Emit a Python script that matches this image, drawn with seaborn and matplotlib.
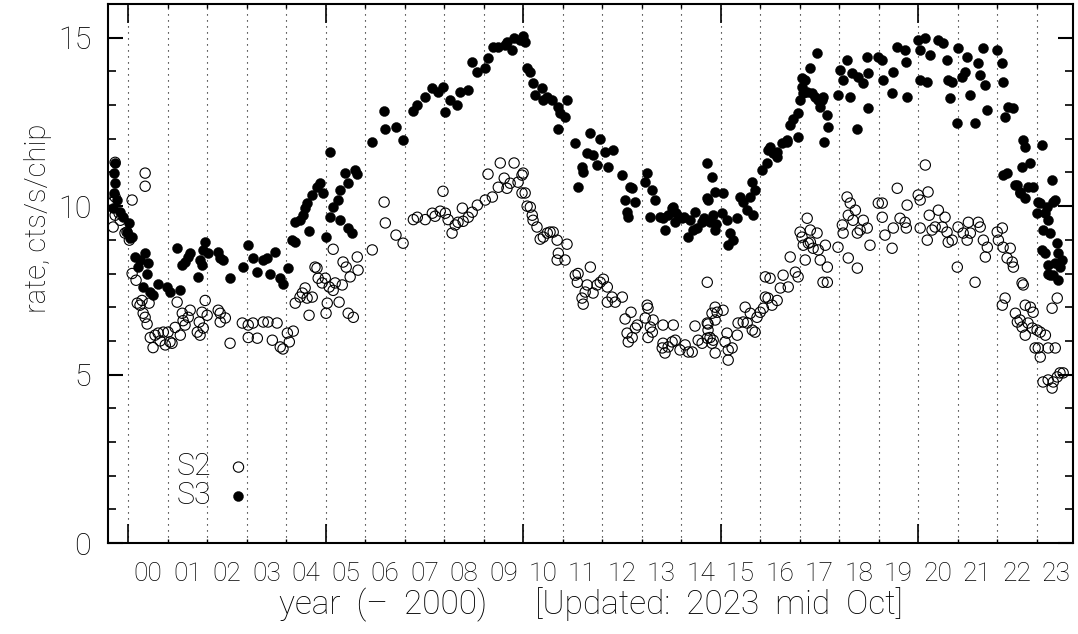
import numpy as np
import pandas as pd
import matplotlib
matplotlib.use("Agg")
import matplotlib.pyplot as plt
import seaborn as sns

# S3 (filled) rates, cts/s/chip
s3_year = [
    1999.67, 1999.65, 1999.67, 1999.65, 1999.72, 1999.62, 1999.80, 1999.87, 2000.03, 1999.97, 2000.10, 2000.05,
    2000.18, 2000.30, 2000.43, 2000.51, 2000.25, 2000.48, 2000.38, 2000.56, 2000.63, 2000.76, 2000.99, 2001.06,
    2001.32, 2001.24, 2001.37, 2001.44, 2001.52, 2001.57, 2001.82, 2001.90, 2001.95, 2002.03, 2001.87, 2001.77,
    2002.28, 2002.33, 2002.41, 2002.58, 2002.91, 2003.04, 2003.16, 2003.27, 2003.42, 2003.52, 2003.59, 2003.72,
    2003.85, 2003.92, 2004.05, 2004.15, 2004.23, 2004.23, 2004.35, 2004.43, 2004.48, 2004.53, 2004.66, 2004.78,
    2004.86, 2004.94, 2004.58, 2005.01, 2005.11, 2005.19, 2005.32, 2005.37, 2005.49, 2005.57, 2005.37, 2005.57,
    2005.67, 2005.11, 2005.75, 2005.80, 2006.18, 2006.48, 2006.51, 2006.78, 2006.96, 2007.22, 2007.32, 2007.52,
    2007.70, 2007.85, 2007.97, 2008.03, 2008.15, 2008.33, 2008.41, 2008.61, 2008.71, 2008.84, 2009.04, 2009.11,
    2009.24, 2009.37, 2009.54, 2009.59, 2009.72, 2009.77, 2009.92, 2010.00, 2010.05, 2010.10, 2010.18, 2010.25,
    2010.30, 2010.48, 2010.51, 2010.61, 2010.73, 2010.89, 2010.94, 2011.11, 2011.06, 2010.89, 2011.32, 2011.39,
    2011.49, 2011.52, 2011.62, 2011.70, 2011.77, 2011.87, 2011.95, 2012.08, 2012.15, 2012.28, 2012.51, 2012.58,
    2012.66, 2012.76, 2012.84, 2013.09, 2013.14, 2013.22, 2013.27, 2013.34, 2012.63, 2012.71, 2013.54, 2013.59,
    2013.77, 2013.85, 2014.03, 2014.18, 2014.30, 2014.35, 2014.53, 2013.47, 2013.67, 2013.87, 2014.08, 2014.23,
    2014.58, 2014.73, 2014.89, 2015.04, 2013.80, 2014.41, 2014.66, 2014.68, 2014.78, 2014.81, 2014.86, 2014.66,
    2014.86, 2015.06, 2015.16, 2015.24, 2015.19, 2015.32, 2015.42, 2015.49, 2015.57, 2015.67, 2015.75, 2015.80,
    2015.87, 2015.82, 2016.05, 2016.18, 2016.25, 2016.33, 2016.43, 2016.56, 2016.68, 2016.96, 2016.20, 2016.43,
    2016.68, 2016.76, 2016.84, 2016.96, 2017.01, 2017.06, 2017.06, 2017.14, 2017.09, 2017.19, 2017.27, 2017.32,
    2017.39, 2017.47, 2017.52, 2017.59, 2017.70, 2017.72, 2017.62, 2017.44, 2017.57, 2017.97, 2018.03, 2018.10,
    2018.20, 2018.28, 2018.33, 2018.46, 2018.48, 2018.61, 2018.71, 2018.73, 2018.73, 2018.99, 2019.09, 2019.11,
    2019.34, 2019.37, 2019.47, 2019.67, 2019.70, 2019.72, 2020.00, 2020.05, 2020.05, 2020.18, 2020.23, 2020.30,
    2020.51, 2020.63, 2020.73, 2020.76, 2020.81, 2020.86, 2020.99, 2021.01, 2021.11, 2021.19, 2021.24, 2021.32,
    2021.44, 2021.52, 2021.57, 2021.65, 2021.70, 2021.75, 2022.00, 2022.13, 2022.15, 2022.20, 2022.28, 2022.41,
    2022.15, 2022.25, 2022.46, 2022.58, 2022.63, 2022.66, 2022.71, 2022.78, 2022.84, 2022.71, 2022.91, 2023.01,
    2023.09, 2023.14, 2023.22, 2023.27, 2023.29, 2023.34, 2023.14, 2023.22, 2023.39, 2023.47, 2023.52, 2023.54,
    2023.65, 2023.59, 2023.29, 2023.42, 2023.54, 2023.47, 2022.58, 2022.51, 2023.04, 2023.42, 2023.16, 2023.29,
    2023.34,
]
s3_rate = [
    11.28, 10.98, 10.68, 10.39, 10.18, 9.94, 9.82, 9.67, 9.50, 9.23, 9.08, 9.05,
    8.49, 8.40, 8.60, 8.30, 8.20, 8.00, 7.60, 7.45, 7.35, 7.70, 7.60, 7.45,
    7.50, 8.75, 8.25, 8.35, 8.50, 8.60, 8.40, 8.70, 8.93, 8.60, 8.25, 7.90,
    8.63, 8.45, 8.40, 7.86, 8.20, 8.84, 8.45, 8.04, 8.40, 8.45, 8.00, 8.63,
    7.86, 7.70, 8.16, 9.00, 8.93, 9.52, 9.58, 9.73, 9.94, 10.09, 10.33, 10.56,
    10.68, 10.39, 9.26, 9.08, 9.67, 9.97, 10.18, 10.47, 10.98, 10.68, 9.58, 9.35,
    9.20, 11.60, 11.07, 10.95, 11.90, 12.82, 12.28, 12.35, 11.96, 12.82, 13.00, 13.23,
    13.50, 13.40, 13.53, 12.80, 13.15, 13.00, 13.40, 13.45, 14.27, 13.98, 14.10, 14.40,
    14.72, 14.72, 14.78, 14.87, 14.63, 15.00, 14.92, 15.04, 14.87, 14.10, 13.98, 13.65,
    13.30, 13.50, 13.15, 13.23, 13.15, 12.94, 12.76, 13.15, 12.64, 12.30, 11.87, 10.56,
    11.16, 11.00, 11.57, 12.17, 11.51, 11.22, 12.00, 11.60, 11.16, 11.66, 10.92, 10.18,
    9.67, 10.53, 10.12, 10.71, 10.98, 9.67, 10.47, 10.18, 9.82, 10.56, 9.64, 9.29,
    9.94, 9.52, 9.64, 9.08, 9.29, 9.82, 9.52, 9.67, 9.73, 9.79, 9.67, 9.58,
    9.64, 9.52, 9.46, 9.79, 9.97, 9.35, 11.28, 10.18, 10.86, 9.73, 9.29, 10.24,
    10.42, 10.39, 9.58, 9.20, 8.84, 8.99, 9.64, 10.27, 10.12, 9.88, 10.27, 10.71,
    10.47, 9.73, 11.07, 11.28, 11.75, 11.57, 11.45, 11.87, 11.96, 12.05, 11.66, 11.60,
    11.90, 12.40, 12.60, 12.76, 13.15, 13.53, 13.80, 13.74, 13.35, 13.38, 14.10, 13.35,
    13.23, 13.15, 12.94, 13.23, 12.70, 12.35, 11.90, 14.54, 13.15, 13.30, 14.04, 13.74,
    14.33, 13.23, 13.95, 12.30, 13.83, 13.65, 14.42, 12.90, 13.95, 14.42, 14.33, 13.74,
    13.35, 13.98, 14.72, 14.63, 14.27, 13.23, 14.92, 14.63, 13.74, 15.00, 13.68, 14.48,
    14.92, 14.84, 14.33, 13.74, 13.20, 13.68, 12.46, 14.69, 13.83, 13.98, 14.42, 13.30,
    12.46, 14.24, 13.89, 14.69, 13.59, 12.85, 14.63, 14.24, 13.68, 12.64, 12.94, 12.90,
    10.92, 10.98, 10.62, 10.39, 11.16, 11.96, 11.75, 10.56, 11.28, 10.24, 10.56, 9.79,
    10.09, 11.81, 9.79, 9.97, 9.58, 9.20, 8.70, 8.60, 10.77, 10.18, 8.90, 8.60,
    8.40, 8.20, 8.00, 7.95, 7.80, 8.30, 10.42, 10.62, 10.12, 10.12, 9.29, 8.25,
    7.95,
]

# S2 (open) rates, cts/s/chip
s2_year = [
    1999.67, 1999.67, 1999.62, 1999.67, 1999.62, 1999.80, 1999.92, 1999.97, 2000.10, 2000.03, 1999.77, 2000.43,
    2000.43, 2000.10, 2000.20, 2000.23, 2000.30, 2000.35, 2000.38, 2000.43, 2000.48, 2000.53, 2000.56, 2000.63,
    2000.68, 2000.76, 2000.81, 2000.89, 2000.94, 2001.01, 2001.06, 2001.11, 2001.24, 2001.32, 2001.19, 2001.37,
    2001.39, 2001.44, 2001.52, 2001.57, 2001.75, 2001.80, 2001.87, 2001.82, 2001.95, 2002.00, 2001.90, 2002.28,
    2002.33, 2002.33, 2002.46, 2002.58, 2002.89, 2003.04, 2003.04, 2003.16, 2003.27, 2003.42, 2003.54, 2003.65,
    2003.77, 2003.85, 2003.92, 2004.03, 2004.08, 2004.18, 2004.23, 2004.35, 2004.41, 2004.48, 2004.53, 2004.58,
    2004.66, 2004.73, 2004.78, 2004.81, 2004.91, 2004.99, 2005.04, 2005.01, 2005.09, 2005.19, 2005.19, 2005.24,
    2005.34, 2005.42, 2005.44, 2005.52, 2005.57, 2005.70, 2005.62, 2005.80, 2005.82, 2006.18, 2006.48, 2006.51,
    2006.78, 2006.96, 2007.22, 2007.32, 2007.52, 2007.70, 2007.77, 2007.90, 2007.97, 2008.03, 2008.10, 2008.20,
    2008.28, 2008.35, 2008.46, 2008.48, 2008.61, 2008.71, 2008.84, 2009.04, 2009.22, 2009.11, 2009.37, 2009.42,
    2009.52, 2009.59, 2009.67, 2009.77, 2009.87, 2009.97, 2010.00, 2009.97, 2010.05, 2010.10, 2010.18, 2010.23,
    2010.25, 2010.35, 2010.43, 2010.51, 2010.61, 2010.68, 2010.76, 2010.86, 2010.89, 2010.86, 2011.06, 2011.11,
    2011.32, 2011.39, 2011.37, 2011.70, 2011.62, 2011.57, 2011.49, 2011.52, 2011.77, 2011.87, 2011.95, 2012.03,
    2012.13, 2012.13, 2012.25, 2012.33, 2012.51, 2012.58, 2012.73, 2012.63, 2012.66, 2012.76, 2012.84, 2012.89,
    2013.14, 2013.16, 2013.09, 2013.22, 2013.29, 2013.27, 2013.16, 2013.54, 2013.52, 2013.54, 2013.59, 2013.67,
    2013.77, 2013.85, 2013.80, 2013.97, 2014.10, 2014.18, 2014.28, 2014.35, 2014.43, 2014.53, 2014.66, 2014.66,
    2014.68, 2014.73, 2014.78, 2014.86, 2014.86, 2014.81, 2014.86, 2014.91, 2015.06, 2014.68, 2014.66, 2014.78,
    2015.16, 2015.11, 2015.19, 2015.19, 2015.29, 2015.42, 2015.44, 2015.57, 2015.67, 2015.62, 2015.75, 2015.80,
    2015.87, 2015.92, 2016.00, 2016.08, 2016.13, 2016.20, 2016.30, 2016.43, 2016.13, 2016.25, 2016.51, 2016.58,
    2016.71, 2016.76, 2016.89, 2016.96, 2017.01, 2017.06, 2017.19, 2017.22, 2017.27, 2017.14, 2017.34, 2017.09,
    2017.27, 2017.47, 2017.52, 2017.65, 2017.59, 2017.70, 2017.70, 2017.44, 2017.97, 2018.08, 2018.10, 2018.20,
    2018.23, 2018.28, 2018.35, 2018.41, 2018.46, 2018.46, 2018.23, 2018.53, 2018.61, 2018.71, 2018.78, 2018.99,
    2019.09, 2019.09, 2019.16, 2019.34, 2019.37, 2019.47, 2019.54, 2019.67, 2019.70, 2019.72, 2020.00, 2020.05,
    2020.05, 2020.18, 2020.25, 2020.28, 2020.35, 2020.23, 2020.43, 2020.51, 2020.61, 2020.68, 2020.73, 2020.76,
    2020.86, 2020.99, 2021.01, 2021.14, 2021.27, 2021.24, 2021.32, 2021.44, 2021.52, 2021.57, 2021.65, 2021.70,
    2021.75, 2022.00, 2022.03, 2022.13, 2022.15, 2022.25, 2022.33, 2022.38, 2022.41, 2022.13, 2022.20, 2022.46,
    2022.58, 2022.63, 2022.66, 2022.71, 2022.84, 2022.91, 2023.39, 2023.52, 2022.51, 2022.63, 2022.71, 2022.78,
    2022.89, 2023.01, 2023.09, 2023.22, 2022.96, 2023.04, 2023.09, 2023.29, 2023.47, 2023.16, 2023.29, 2023.39,
    2023.52, 2023.59, 2023.67, 2023.42,
]
s2_rate = [
    11.30, 10.27, 10.12, 9.73, 9.38, 9.58, 9.20, 9.23, 10.18, 8.99, 9.79, 10.98,
    10.59, 8.00, 7.80, 7.12, 7.06, 7.20, 6.82, 6.70, 6.50, 7.12, 6.10, 5.80,
    6.17, 6.23, 6.00, 6.26, 5.88, 6.26, 5.97, 5.93, 7.15, 6.17, 6.40, 6.82,
    6.60, 6.47, 6.70, 6.91, 6.26, 6.56, 6.85, 6.17, 7.20, 6.76, 6.38, 6.91,
    6.82, 6.56, 6.68, 5.93, 6.53, 6.10, 6.47, 6.53, 6.08, 6.56, 6.56, 6.02,
    6.53, 5.82, 5.76, 6.23, 5.97, 6.29, 7.12, 7.30, 7.42, 7.57, 7.27, 6.76,
    7.30, 8.19, 8.16, 7.86, 7.72, 7.86, 7.12, 6.82, 7.60, 8.72, 7.50, 7.72,
    7.15, 7.66, 8.34, 8.19, 6.82, 6.70, 7.90, 8.49, 8.10, 8.70, 10.12, 9.50,
    9.14, 8.90, 9.60, 9.67, 9.60, 9.79, 9.70, 9.85, 10.44, 9.79, 9.60, 9.20,
    9.44, 9.52, 9.94, 9.55, 9.67, 9.82, 10.03, 10.18, 10.27, 10.95, 10.56, 11.28,
    10.83, 10.53, 10.68, 11.28, 10.71, 10.92, 10.98, 10.39, 10.39, 10.00, 9.97, 9.73,
    9.58, 9.38, 9.02, 9.08, 9.20, 9.23, 9.23, 8.99, 8.60, 8.40, 8.40, 8.87,
    7.95, 8.00, 7.74, 8.19, 7.66, 7.45, 7.27, 7.09, 7.42, 7.66, 7.74, 7.83,
    7.60, 7.15, 7.30, 7.15, 7.30, 6.65, 6.85, 6.23, 5.97, 6.10, 6.38, 6.47,
    7.06, 6.97, 6.68, 6.41, 6.62, 6.26, 6.10, 6.47, 5.79, 5.93, 5.64, 5.82,
    5.97, 6.02, 6.47, 5.73, 5.88, 5.67, 5.67, 6.44, 6.02, 5.93, 6.53, 7.74,
    6.32, 6.10, 6.82, 7.00, 6.62, 6.02, 5.64, 6.85, 6.91, 6.50, 6.08, 5.93,
    6.23, 5.97, 5.73, 5.43, 5.79, 6.17, 6.53, 6.56, 6.53, 7.00, 6.82, 6.32,
    6.26, 6.70, 6.85, 6.97, 7.30, 7.27, 7.06, 7.20, 7.90, 7.86, 7.57, 7.95,
    7.60, 8.49, 8.04, 7.90, 9.23, 9.08, 9.64, 8.90, 9.29, 8.40, 8.75, 8.84,
    8.93, 8.70, 8.40, 8.84, 7.74, 7.74, 8.19, 9.20, 8.78, 9.44, 9.20, 10.27,
    9.73, 10.09, 9.58, 9.88, 9.20, 8.16, 8.46, 9.29, 9.58, 9.35, 8.84, 10.09,
    10.09, 9.67, 9.14, 8.75, 9.35, 10.53, 9.64, 9.52, 9.35, 10.03, 10.33, 10.18,
    9.35, 11.22, 10.42, 9.73, 9.29, 8.99, 9.38, 9.88, 9.38, 9.67, 9.23, 8.93,
    8.99, 8.19, 9.38, 9.20, 9.52, 8.99, 9.20, 7.74, 9.52, 9.38, 8.99, 8.49,
    8.78, 9.23, 8.99, 9.35, 8.78, 8.46, 8.75, 8.34, 8.19, 7.06, 7.27, 6.82,
    6.62, 7.72, 7.66, 7.06, 7.00, 6.85, 6.97, 7.27, 6.56, 6.41, 6.17, 6.53,
    6.38, 6.32, 6.26, 6.17, 5.79, 5.79, 5.52, 5.79, 5.79, 4.78, 4.84, 4.60,
    4.93, 5.05, 5.05, 4.78,
]

year_lines = list(range(2000, 2024))
year_labels = ["%02d" % (y - 2000) for y in year_lines]

df3 = pd.DataFrame({"year": s3_year, "rate": s3_rate})
df2 = pd.DataFrame({"year": s2_year, "rate": s2_rate})

sns.set_theme(style="white")
plt.rcParams["font.family"] = ["Roboto", "DejaVu Sans"]
plt.rcParams["font.weight"] = "light"
plt.rcParams["axes.labelweight"] = "light"
plt.rcParams["text.color"] = "black"
plt.rcParams["axes.labelcolor"] = "black"
plt.rcParams["xtick.color"] = "black"
plt.rcParams["ytick.color"] = "black"

fig = plt.figure(figsize=(10.78, 6.34), dpi=100)
ax = fig.add_axes([0.1002, 0.1435, 0.8952, 0.8502])

# dotted year grid
for y in year_lines:
    ax.axvline(y, color="black", lw=0.8, ls=(0, (1, 4.4)), zorder=1)

sns.scatterplot(data=df3, x="year", y="rate", ax=ax, marker="o", s=52,
                color="black", edgecolor="black", linewidth=0.3, label="S3", zorder=3)
sns.scatterplot(data=df2, x="year", y="rate", ax=ax, marker="o", s=55,
                facecolor="none", edgecolor="black", linewidth=0.8, label="S2", zorder=4)

ax.set_xlim(1999.49, 2023.92)
ax.set_ylim(0, 16)

for sp in ax.spines.values():
    sp.set_linewidth(1.5)
    sp.set_color("black")

ax.set_yticks([0, 5, 10, 15])
ax.set_yticks(range(0, 17), minor=True)
ax.set_xticks([2000, 2005, 2010, 2015, 2020])
ax.set_xticks(year_lines, minor=True)
ax.set_xticklabels([])
ax.tick_params(axis="y", which="major", direction="in", length=11, width=1.5,
               left=True, right=True, labelsize=22, pad=12, colors="black")
ax.tick_params(axis="y", which="minor", direction="in", length=6, width=1.2,
               left=True, right=True)
ax.tick_params(axis="x", which="major", direction="in", length=14, width=1.2,
               bottom=True, top=True)
ax.tick_params(axis="x", which="minor", direction="in", length=3, width=1.0,
               bottom=True, top=True)

sec = ax.secondary_xaxis("bottom")
sec.set_xticks([y + 0.5 for y in year_lines], year_labels)
sec.tick_params(length=0, labelsize=19, pad=14, colors="black")
sec.spines["bottom"].set_visible(False)
sec.set_xlabel("year  (\u2013  2000)      [Updated:  2023  mid  Oct]", fontsize=24,
               labelpad=1, color="black")

ax.set_ylabel("rate, cts/s/chip", fontsize=21, color="black")
ax.yaxis.set_label_coords(-0.058, 0.603)
ax.set_xlabel("")

h, l = ax.get_legend_handles_labels()
order = [l.index("S2"), l.index("S3")]
leg = ax.legend([h[i] for i in order], [l[i] for i in order], markerfirst=False, frameon=False,
                loc="upper left", bbox_to_anchor=(0.055, 0.197), fontsize=22,
                labelspacing=0.0, handletextpad=0.4, borderpad=0, handlelength=1.0,
                labelcolor="black")

fig.savefig("out.png", dpi=100)
